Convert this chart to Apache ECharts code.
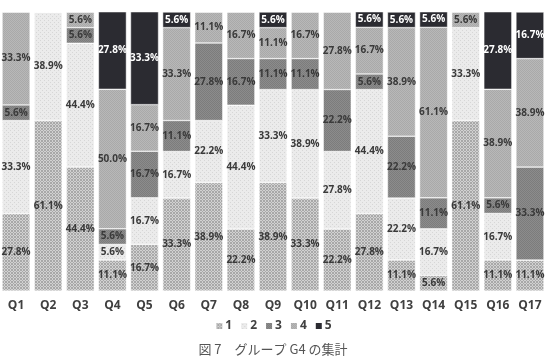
<!DOCTYPE html>
<html lang="ja">
<head>
<meta charset="utf-8">
<title>グループ G4 の集計</title>
<script src="https://cdn.jsdelivr.net/npm/echarts@6/dist/echarts.min.js"></script>
<style>
  html, body { margin: 0; padding: 0; background: #fff; }
  #chart { width: 546px; height: 362px; }
</style>
</head>
<body>
<div id="chart"></div>
<script>
// 設問
var questions = ['Q1','Q2','Q3','Q4','Q5','Q6','Q7','Q8','Q9','Q10','Q11','Q12','Q13','Q14','Q15','Q16','Q17'];
var seriesNames = ['1', '2', '3', '4', '5'];

// 回答割合 (%)
var s1 = [27.8, 61.1, 44.4, 11.1, 16.7, 33.3, 38.9, 22.2, 38.9, 33.3, 22.2, 27.8, 11.1, 5.6, 61.1, 11.1, 11.1];
var s2 = [33.3, 38.9, 44.4, 5.6, 16.7, 16.7, 22.2, 44.4, 33.3, 38.9, 27.8, 44.4, 22.2, 16.7, 33.3, 16.7, 0];
var s3 = [5.6, 0, 5.6, 5.6, 16.7, 11.1, 27.8, 16.7, 11.1, 11.1, 22.2, 5.6, 22.2, 11.1, 0, 5.6, 33.3];
var s4 = [33.3, 0, 5.6, 50.0, 16.7, 33.3, 11.1, 16.7, 11.1, 16.7, 27.8, 16.7, 38.9, 61.1, 5.6, 38.9, 38.9];
var s5 = [0, 0, 0, 27.8, 33.3, 5.6, 0, 0, 5.6, 0, 0, 5.6, 5.6, 5.6, 0, 27.8, 16.7];
var allData = [s1, s2, s3, s4, s5];

// 網掛けパターン
function makePattern(a, b, size, dots) {
    var c = document.createElement('canvas');
    c.width = size; c.height = size;
    var ctx = c.getContext('2d');
    ctx.fillStyle = a;
    ctx.fillRect(0, 0, size, size);
    ctx.fillStyle = b;
    for (var i = 0; i < dots.length; i++) {
        ctx.fillRect(dots[i][0], dots[i][1], 1, 1);
    }
    return { image: c, repeat: 'repeat' };
}
var patterns = [
    makePattern('#d2d2d2', '#a8a8a8', 3, [[0, 0], [2, 0], [1, 1], [0, 2], [2, 2]]),
    makePattern('#ebebeb', '#d6d6d6', 4, [[0, 0], [2, 2]]),
    makePattern('#8c8c8c', '#7c7c7c', 2, [[0, 0], [1, 1]]),
    makePattern('#b8b8b8', '#a9a9a9', 2, [[0, 0], [1, 1]]),
    '#2b2b31'
];
var labelColors = ['#3a3a3a', '#3a3a3a', '#3a3a3a', '#3a3a3a', '#ffffff'];

var series = seriesNames.map(function (name, k) {
    return {
        name: name,
        type: 'bar',
        stack: 'total',
        barWidth: 28,
        data: allData[k],
        itemStyle: { color: patterns[k], borderColor: '#ffffff', borderWidth: 0.5 },
        label: {
            show: true,
            position: 'inside',
            fontFamily: 'Open Sans',
            fontWeight: 'bold',
            fontSize: 10,
            color: labelColors[k],
            formatter: function (p) {
                return p.value > 0 ? p.value.toFixed(1) + '%' : '';
            }
        }
    };
});

var chart = echarts.init(document.getElementById('chart'), null, { renderer: 'canvas' });
chart.setOption({
    animation: false,
    grid: { left: -1, right: -1, top: 12, bottom: 71 },
    xAxis: {
        type: 'category',
        data: questions,
        axisLine: { show: false },
        axisTick: { show: false },
        axisLabel: {
            margin: 9,
            fontFamily: 'Open Sans',
            fontWeight: 'bold',
            fontSize: 12,
            color: '#404040'
        }
    },
    yAxis: {
        type: 'value',
        min: 0,
        max: 100,
        show: false
    },
    legend: {
        data: seriesNames,
        bottom: 25,
        left: 'center',
        itemWidth: 8,
        itemHeight: 8,
        itemGap: 7,
        icon: 'rect',
        textStyle: {
            fontFamily: 'Open Sans',
            fontWeight: 'bold',
            fontSize: 12,
            color: '#404040',
            padding: [0, 0, 0, -3]
        }
    },
    title: {
        text: '図 7　グループ G4 の集計',
        bottom: 1,
        left: 'center',
        textStyle: {
            fontFamily: 'Noto Sans CJK JP',
            fontWeight: 'normal',
            fontSize: 13,
            color: '#555555'
        }
    },
    series: series
});
</script>
</body>
</html>
